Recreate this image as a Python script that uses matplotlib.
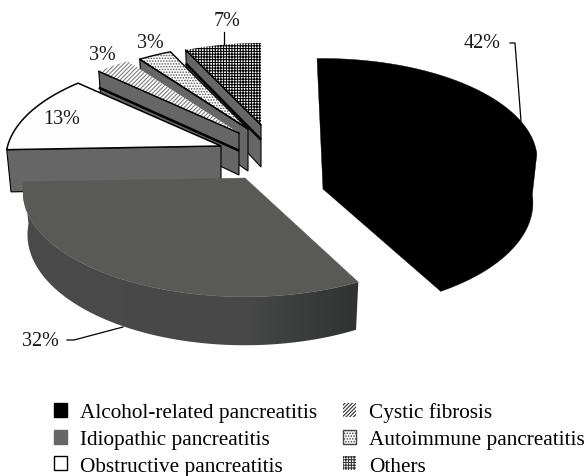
import numpy as np
import matplotlib
matplotlib.use("Agg")
import matplotlib.pyplot as plt
from matplotlib.colors import LinearSegmentedColormap
from matplotlib.patches import Polygon, Patch

categories = ["Alcohol-related pancreatitis", "Idiopathic pancreatitis", "Obstructive pancreatitis",
              "Cystic fibrosis", "Autoimmune pancreatitis", "Others"]
values = [42, 32, 13, 3, 3, 7]
labels = ["42%", "32%", "13%", "3%", "3%", "7%"]

# style / layout: exploded apex of each slice and its radial scale (pixels)
apex_x = [322, 245, 221, 239, 248, 261]
apex_y = [148, 179, 147, 134, 130, 126]
scale = [0.97, 1.0, 0.97, 0.95, 0.92, 0.89]
start_nudge = [-1.5, 1.8, 1.5, 0, 0, 0]
end_nudge = [-1.5, 1.5, 0, 0, 0, 0]
RX, RY, K, DEPTH, SHRINK = 220, 103, 0.133, 42, 0.98
SERIF = "Liberation Serif"
FS_LABEL = 14.5
FS_LEGEND = 15.3

plt.rcParams["hatch.linewidth"] = 0.75
fig = plt.figure(figsize=(5.87, 4.77), dpi=100)
ax = fig.add_axes([0, 0, 1, 1])
ax.set_xlim(0, 587)
ax.set_ylim(477, 0)
ax.axis("off")

cum = np.cumsum([0] + values) / sum(values) * 360
starts = cum[:-1] + np.array(start_nudge)
ends = cum[1:] + np.array(end_nudge)


def top(i, t):
    t = np.radians(t)
    u, v = scale[i] * np.sin(t), scale[i] * np.cos(t)
    w = 1 + K * v
    return np.column_stack([apex_x[i] + RX * u / w, apex_y[i] - RY * v / w])


def low(i, t):
    t = np.radians(t)
    u, v = scale[i] * np.sin(t), scale[i] * np.cos(t)
    w = 1 + K * v
    return np.column_stack([apex_x[i] + SHRINK * RX * u / w, apex_y[i] - RY * v / w + DEPTH / w])


def radial_face(i, color, z, stripes=()):
    a = np.array([[apex_x[i], apex_y[i]]])
    b = np.array([[apex_x[i], apex_y[i] + DEPTH]])
    t0, l0 = top(i, np.array([starts[i]])), low(i, np.array([starts[i]]))
    ax.add_patch(Polygon(np.vstack([a, t0, l0, b]), closed=True, fc=color, ec="black", lw=0.8, zorder=z))
    for f in stripes:
        ax.plot([a[0, 0], t0[0, 0]], [a[0, 1] + f * DEPTH, t0[0, 1] + f * (l0[0, 1] - t0[0, 1])],
                color="black", lw=1.8, zorder=z, solid_capstyle="butt")


def top_poly(i):
    th = np.linspace(starts[i], ends[i], 80)
    return np.vstack([[apex_x[i], apex_y[i]], top(i, th)])


# back slices first
styles = {
    5: dict(hatch="++++++", hc="black", outline=False, stripes=(0.35,)),
    4: dict(hatch="......", hc="#555555", outline=True, stripes=()),
    3: dict(hatch="////////", hc="#777777", outline=False, stripes=(0.42,)),
}
z = 2
for i in (5, 4, 3):
    s = styles[i]
    radial_face(i, "#666666", z, s["stripes"])
    poly = top_poly(i)
    ax.add_patch(Polygon(poly, closed=True, fc="white", ec=s["hc"], hatch=s["hatch"], lw=0, zorder=z + 0.1))
    ax.plot(poly[[1, 0], 0], poly[[1, 0], 1], color="black", lw=1, zorder=z + 0.2)
    if s["outline"]:
        ax.add_patch(Polygon(poly, closed=True, fc="none", ec="black", lw=1, zorder=z + 0.2))
    z += 1

# obstructive
radial_face(2, "#666666", z)
ax.add_patch(Polygon(top_poly(2), closed=True, fc="#fdfefd", ec="black", lw=1.1, zorder=z + 0.1))
z += 1

# idiopathic: wall with a horizontal shading gradient, clipped to the wall outline
ths = np.linspace(starts[1], min(ends[1], 270), 160)
wall = Polygon(np.vstack([top(1, ths), low(1, ths)[::-1]]), closed=True, fc="none", ec="none", transform=ax.transData)
ax.add_patch(wall)
wall_cmap = LinearSegmentedColormap.from_list("wall", [(0, "#4a4a4a"), (0.68, "#484848"), (0.82, "#3c3d3d"), (1, "#303232")])
grad = ax.imshow(np.linspace(0, 1, 256)[None, :], cmap=wall_cmap, extent=(0, 365, 360, 170), aspect="auto", zorder=z)
grad.set_clip_path(wall)
ax.set_xlim(0, 587)
ax.set_ylim(477, 0)
ax.add_patch(Polygon(top_poly(1), closed=True, fc="#595958", ec="#595958", lw=0.3, zorder=z + 0.1))
z += 1

# alcohol: all black, so one silhouette
th0 = np.linspace(starts[0], 90, 60)
th1 = np.linspace(90, ends[0], 60)
outline = np.vstack([top(0, th0), top(0, th1)[:5], low(0, th1[3:]), [[apex_x[0] + 1, apex_y[0] + DEPTH]]])
ax.add_patch(Polygon(outline, closed=True, fc="black", ec="black", lw=0.3, zorder=z))

# leaders
leader_x = [[510, 515, 521], [67, 74, 123], [224, 224]]
leader_y = [[44, 44, 122], [341, 341, 328], [33, 45]]
for lx, ly in zip(leader_x, leader_y):
    ax.plot(lx, ly, color="black", lw=0.9, zorder=20)

label_x = [482, 40, 62, 102, 150, 227]
label_y = [44, 342, 119, 55, 43, 21]
for txt, x, y in zip(labels, label_x, label_y):
    ax.text(x, y, txt, ha="center", va="center", family=SERIF, fontsize=FS_LABEL, color="#1a1a1a", zorder=21)

handles = [
    Patch(fc="black", ec="black"),
    Patch(fc="#666666", ec="#666666"),
    Patch(fc="white", ec="black"),
    Patch(fc="white", ec="#222222", hatch="/////////", lw=0),
    Patch(fc="white", ec="#444444", hatch="......"),
    Patch(fc="white", ec="#333333", hatch="++++++", lw=0),
]
ax.legend(handles, categories, ncol=2, loc="upper left", bbox_to_anchor=(54 / 587, 1 - 403.5 / 477),
          frameon=False, prop={"family": SERIF, "size": FS_LEGEND}, handlelength=0.63, handleheight=0.63,
          handletextpad=0.6, columnspacing=1.2, labelspacing=0.345, borderaxespad=0, borderpad=0)

fig.savefig("out.png", dpi=100)
